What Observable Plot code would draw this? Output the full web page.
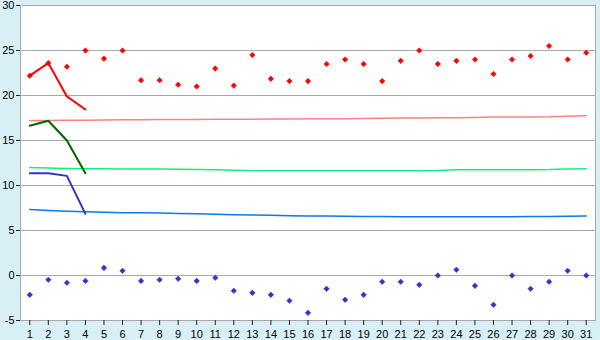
<!DOCTYPE html>
<html>
<head>
<meta charset="utf-8">
<script src="https://cdn.jsdelivr.net/npm/d3@7"></script>
<script src="https://cdn.jsdelivr.net/npm/@observablehq/plot@0.6"></script>
<style>
  html, body { margin: 0; padding: 0; background: #d9eff6; }
  #chart svg { display: block; }
</style>
</head>
<body>
<div id="chart"></div>
<script>
const days = [1,2,3,4,5,6,7,8,9,10,11,12,13,14,15,16,17,18,19,20,21,22,23,24,25,26,27,28,29,30,31];
const yTicks = [-5,0,5,10,15,20,25,30];

// daily maxima (red diamonds)
const maxTemp = [22.2,23.6,23.2,25.0,24.1,25.0,21.7,21.7,21.2,21.0,23.0,21.1,24.5,21.85,21.6,21.6,23.5,24.0,23.5,21.6,23.85,25.0,23.5,23.85,24.0,22.4,24.0,24.4,25.5,24.0,24.75];
// daily minima (blue diamonds)
const minTemp = [-2.15,-0.48,-0.8,-0.6,0.85,0.52,-0.6,-0.48,-0.37,-0.6,-0.26,-1.7,-1.93,-2.15,-2.8,-4.15,-1.48,-2.7,-2.15,-0.7,-0.7,-1.04,0.0,0.63,-1.15,-3.26,0.0,-1.48,-0.7,0.52,0.0];

// short lines for first days
const lineDays = [1,2,3,4];
const redLine = [22.2,23.6,19.9,18.45];
const greenLine = [16.63,17.2,15.0,11.37];
const blueLine = [11.37,11.37,11.07,6.85];

// normal (thin) lines
const normalMax = [17.2,17.22,17.24,17.26,17.28,17.3,17.31,17.32,17.33,17.34,17.35,17.36,17.37,17.38,17.4,17.41,17.42,17.43,17.44,17.46,17.5,17.51,17.52,17.53,17.55,17.6,17.61,17.62,17.63,17.7,17.74];
const normalMean = [12.0,11.95,11.9,11.87,11.85,11.84,11.83,11.82,11.8,11.78,11.74,11.7,11.65,11.64,11.64,11.64,11.64,11.64,11.64,11.64,11.64,11.65,11.66,11.74,11.75,11.75,11.75,11.76,11.77,11.84,11.85];
const normalMin = [7.33,7.22,7.13,7.08,7.02,6.98,6.96,6.94,6.9,6.86,6.8,6.76,6.73,6.69,6.65,6.62,6.6,6.58,6.56,6.55,6.54,6.53,6.53,6.53,6.53,6.53,6.54,6.55,6.56,6.58,6.62];

const pts = (ys, xs) => xs.map((d, i) => ({day: d, v: ys[i]}));

const chart = Plot.plot({
  width: 600,
  height: 340,
  marginLeft: 20,
  marginRight: 5,
  marginTop: 5,
  marginBottom: 20,
  style: {background: "#d9eff6", fontFamily: "'Liberation Sans', Arial, sans-serif", fontSize: "11px", color: "black", overflow: "visible"},
  x: {domain: [0.5, 31.5], label: null},
  y: {domain: [-5, 30], label: null},
  marks: [
    Plot.frame({fill: "white", stroke: null}),
    Plot.ruleY(yTicks, {stroke: "#aaaaaa", strokeWidth: 1}),
    Plot.frame({stroke: "#aaaaaa", strokeWidth: 1}),
    Plot.line(pts(normalMax, days), {x: "day", y: "v", stroke: "#ff8080", strokeWidth: 1.5}),
    Plot.line(pts(normalMean, days), {x: "day", y: "v", stroke: "#10f080", strokeWidth: 1.5}),
    Plot.line(pts(normalMin, days), {x: "day", y: "v", stroke: "#0a78f0", strokeWidth: 1.5}),
    Plot.line(pts(redLine, lineDays), {x: "day", y: "v", stroke: "#ff0000", strokeWidth: 2}),
    Plot.line(pts(greenLine, lineDays), {x: "day", y: "v", stroke: "#006600", strokeWidth: 2}),
    Plot.line(pts(blueLine, lineDays), {x: "day", y: "v", stroke: "#3333cc", strokeWidth: 2}),
    Plot.dot(pts(maxTemp, days), {x: "day", y: "v", symbol: "diamond2", r: 2.5, fill: "#ff0000", stroke: "#ff0000", strokeWidth: 0.5}),
    Plot.dot(pts(minTemp, days), {x: "day", y: "v", symbol: "diamond2", r: 2.5, fill: "#3333cc", stroke: "#3333cc", strokeWidth: 0.5}),
    Plot.axisY({ticks: yTicks, tickSize: 4, tickPadding: 2, stroke: "#222", tickFormat: d => String(d), fill: "black", label: null}),
    Plot.axisX({ticks: days, tickSize: 5, tickPadding: 5, stroke: "#222", tickFormat: d => String(d), fill: "black", label: null})
  ]
});
document.getElementById("chart").appendChild(chart);
</script>
</body>
</html>
